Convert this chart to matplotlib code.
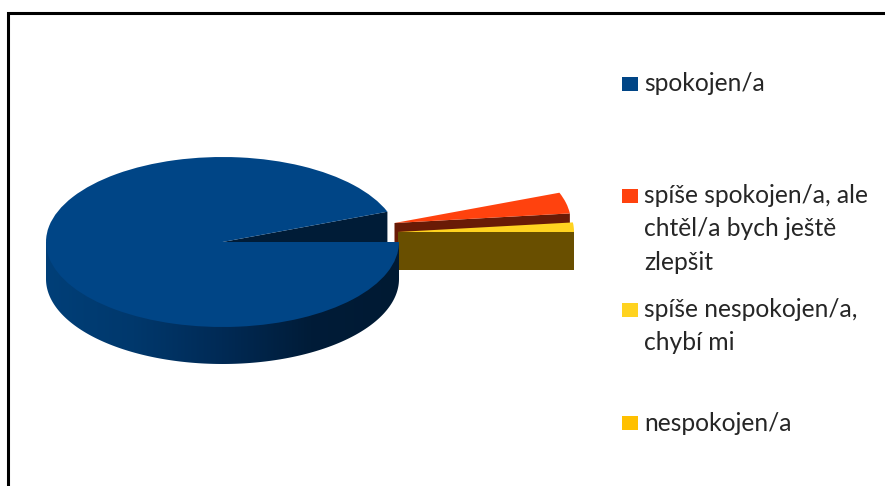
import numpy as np
import matplotlib
matplotlib.use("Agg")
import matplotlib.pyplot as plt
from matplotlib.colors import LinearSegmentedColormap, to_rgb
from matplotlib.patches import Rectangle, Polygon
from matplotlib.transforms import Affine2D

plt.rcParams['font.family'] = ['Lato', 'DejaVu Sans']

# data
labels = ['spokojen/a', 'spíše spokojen/a, ale\nchtěl/a bych ještě\nzlepšit',
          'spíše nespokojen/a,\nchybí mi', 'nespokojen/a']
values = [94.2, 4.0, 1.8, 0.0]
colors = ['#004586', '#ff420e', '#ffd320', '#ffc000']

# layout, everything is in reference pixels
W, H = 885, 486
CX, CY = 222.5, 242
RX, RY = 176.5, 85
DEPTH = 37
offsets = [(0, 0), (172, 19), (175, 10), (175, 10)]
square_y = [84, 196, 310, 423]
text_y = [84, 229, 326, 423]


def main():
    fig = plt.figure(figsize=(W / 100, H / 100), dpi=100)
    ax = fig.add_axes([0, 0, 1, 1])

    wedges, _ = ax.pie(values, colors=colors, startangle=0, counterclock=False,
                       radius=RX, wedgeprops={'linewidth': 0})

    squash = RY / RX
    for i, w in enumerate(wedges):
        dx, dy = offsets[i]
        x0, y0 = CX + dx, H - CY + dy
        w.set_transform(Affine2D().scale(1, squash).translate(x0, y0) + ax.transData)
        # blue top has to sit over the tips of the exploded slices
        z = 10 - (i == 2) * 2 - (i == 1) * 4
        w.set_zorder(z)

        # flat cut wall below the lower edge of the slice
        t = np.radians(w.theta1)
        ex, ey = x0 + RX * np.cos(t), y0 + RY * np.sin(t)
        dark = tuple(c * 0.41 for c in to_rgb(colors[i]))
        ax.add_patch(Polygon([(x0, y0), (ex, ey), (ex, ey - DEPTH - 1), (x0, y0 - DEPTH - 1)],
                             closed=True, fc=dark, ec='none', zorder=z - 1))

    # outer rim of the big slice, shaded left to right, runs on under the top
    shade = LinearSegmentedColormap.from_list('rim', ['#003f78', '#00386c', '#002a55', '#001c38', '#001a33'])
    th = np.radians(np.linspace(180, 360, 181))
    xs = CX + RX * np.cos(th)
    ys = H - CY + RY * np.sin(th) - DEPTH
    rim_path = np.vstack([[(CX - RX, H - CY)], np.column_stack([xs, ys]), [(CX + RX, H - CY)]])
    clip = Polygon(rim_path, closed=True, fc='none', ec='none', transform=ax.transData)
    ax.add_patch(clip)
    grad = ax.imshow(np.linspace(0, 1, 256)[None, :], cmap=shade, aspect='auto', zorder=9,
                     extent=(CX - RX, CX + RX, H - CY - RY - DEPTH, H - CY))
    grad.set_clip_path(clip)

    ax.set_xlim(0, W)
    ax.set_ylim(0, H)
    ax.set_aspect('auto')
    ax.axis('off')

    # legend
    for name, col, sy, ty in zip(labels, colors, square_y, text_y):
        ax.add_patch(Rectangle((622, H - sy - 7), 16, 14, fc=col, ec='none', zorder=5))
        ax.text(644.5, H - ty, name, fontsize=17.7, color='#262626', va='center',
                linespacing=1.55, zorder=5)

    # frame, only top and left are in the crop
    ax.plot([8, 8, W], [0, H - 13, H - 13], color='black', lw=2.2, solid_joinstyle='miter', zorder=20)

    fig.savefig('out.png', dpi=100)


if __name__ == "__main__":
    main()
